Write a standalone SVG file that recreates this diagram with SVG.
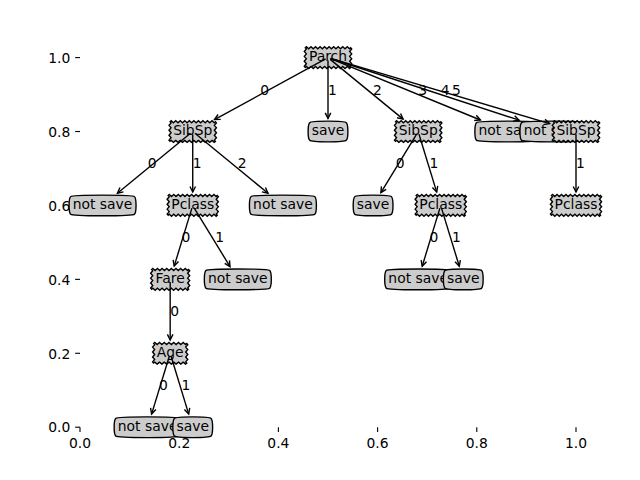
<svg xmlns="http://www.w3.org/2000/svg" width="640" height="480" viewBox="0 0 640 480">
<style>
.box{fill:#cccccc;stroke:#000;stroke-width:1.39;stroke-linejoin:miter}
.t{font-family:"DejaVu Sans","Liberation Sans",sans-serif;font-size:13.89px;fill:#000}
.c{text-anchor:middle}
.e{text-anchor:end}
.edge{fill:none;stroke:#000;stroke-width:1.39;marker-end:url(#ah)}
.tick{stroke:#000;stroke-width:1.11}
</style>
<defs>
<marker id="ah" markerUnits="userSpaceOnUse" markerWidth="20" markerHeight="20" viewBox="-10 -10 20 20" refX="0" refY="0" orient="auto" overflow="visible">
<path d="M-5.56,-2.78 L0,0 L-5.56,2.78" fill="none" stroke="#000" stroke-width="1.39" stroke-linejoin="miter"/>
</marker>
<path id="saw10" class="box" d="M-22.68,-9.85 l1.134,-1.04 1.134,1.04 1.134,1.04 1.134,-1.04 1.134,-1.04 1.134,1.04 1.134,1.04 1.134,-1.04 1.134,-1.04 1.134,1.04 1.134,1.04 1.134,-1.04 1.134,-1.04 1.134,1.04 1.134,1.04 1.134,-1.04 1.134,-1.04 1.134,1.04 1.134,1.04 1.134,-1.04 1.134,-1.04 1.134,1.04 1.134,1.04 1.134,-1.04 1.134,-1.04 1.134,1.04 1.134,1.04 1.134,-1.04 1.134,-1.04 1.134,1.04 1.134,1.04 1.134,-1.04 1.134,-1.04 1.134,1.04 1.134,1.04 1.134,-1.04 1.134,-1.04 1.134,1.04 1.134,1.04 1.134,-1.04 1.04,1.231 -1.04,1.231 -1.04,1.231 1.04,1.231 1.04,1.231 -1.04,1.231 -1.04,1.231 1.04,1.231 1.04,1.231 -1.04,1.231 -1.04,1.231 1.04,1.231 1.04,1.231 -1.04,1.231 -1.04,1.231 1.04,1.231 -1.134,1.04 -1.134,-1.04 -1.134,-1.04 -1.134,1.04 -1.134,1.04 -1.134,-1.04 -1.134,-1.04 -1.134,1.04 -1.134,1.04 -1.134,-1.04 -1.134,-1.04 -1.134,1.04 -1.134,1.04 -1.134,-1.04 -1.134,-1.04 -1.134,1.04 -1.134,1.04 -1.134,-1.04 -1.134,-1.04 -1.134,1.04 -1.134,1.04 -1.134,-1.04 -1.134,-1.04 -1.134,1.04 -1.134,1.04 -1.134,-1.04 -1.134,-1.04 -1.134,1.04 -1.134,1.04 -1.134,-1.04 -1.134,-1.04 -1.134,1.04 -1.134,1.04 -1.134,-1.04 -1.134,-1.04 -1.134,1.04 -1.134,1.04 -1.134,-1.04 -1.134,-1.04 -1.134,1.04 -1.04,-1.231 1.04,-1.231 1.04,-1.231 -1.04,-1.231 -1.04,-1.231 1.04,-1.231 1.04,-1.231 -1.04,-1.231 -1.04,-1.231 1.04,-1.231 1.04,-1.231 -1.04,-1.231 -1.04,-1.231 1.04,-1.231 1.04,-1.231 -1.04,-1.231 z"/>
<path id="saw11" class="box" d="M-24.55,-9.85 l1.116,-1.04 1.116,1.04 1.116,1.04 1.116,-1.04 1.116,-1.04 1.116,1.04 1.116,1.04 1.116,-1.04 1.116,-1.04 1.116,1.04 1.116,1.04 1.116,-1.04 1.116,-1.04 1.116,1.04 1.116,1.04 1.116,-1.04 1.116,-1.04 1.116,1.04 1.116,1.04 1.116,-1.04 1.116,-1.04 1.116,1.04 1.116,1.04 1.116,-1.04 1.116,-1.04 1.116,1.04 1.116,1.04 1.116,-1.04 1.116,-1.04 1.116,1.04 1.116,1.04 1.116,-1.04 1.116,-1.04 1.116,1.04 1.116,1.04 1.116,-1.04 1.116,-1.04 1.116,1.04 1.116,1.04 1.116,-1.04 1.116,-1.04 1.116,1.04 1.116,1.04 1.116,-1.04 1.04,1.231 -1.04,1.231 -1.04,1.231 1.04,1.231 1.04,1.231 -1.04,1.231 -1.04,1.231 1.04,1.231 1.04,1.231 -1.04,1.231 -1.04,1.231 1.04,1.231 1.04,1.231 -1.04,1.231 -1.04,1.231 1.04,1.231 -1.116,1.04 -1.116,-1.04 -1.116,-1.04 -1.116,1.04 -1.116,1.04 -1.116,-1.04 -1.116,-1.04 -1.116,1.04 -1.116,1.04 -1.116,-1.04 -1.116,-1.04 -1.116,1.04 -1.116,1.04 -1.116,-1.04 -1.116,-1.04 -1.116,1.04 -1.116,1.04 -1.116,-1.04 -1.116,-1.04 -1.116,1.04 -1.116,1.04 -1.116,-1.04 -1.116,-1.04 -1.116,1.04 -1.116,1.04 -1.116,-1.04 -1.116,-1.04 -1.116,1.04 -1.116,1.04 -1.116,-1.04 -1.116,-1.04 -1.116,1.04 -1.116,1.04 -1.116,-1.04 -1.116,-1.04 -1.116,1.04 -1.116,1.04 -1.116,-1.04 -1.116,-1.04 -1.116,1.04 -1.116,1.04 -1.116,-1.04 -1.116,-1.04 -1.116,1.04 -1.04,-1.231 1.04,-1.231 1.04,-1.231 -1.04,-1.231 -1.04,-1.231 1.04,-1.231 1.04,-1.231 -1.04,-1.231 -1.04,-1.231 1.04,-1.231 1.04,-1.231 -1.04,-1.231 -1.04,-1.231 1.04,-1.231 1.04,-1.231 -1.04,-1.231 z"/>
<path id="saw8" class="box" d="M-18.5,-9.85 l1.156,-1.04 1.156,1.04 1.156,1.04 1.156,-1.04 1.156,-1.04 1.156,1.04 1.156,1.04 1.156,-1.04 1.156,-1.04 1.156,1.04 1.156,1.04 1.156,-1.04 1.156,-1.04 1.156,1.04 1.156,1.04 1.156,-1.04 1.156,-1.04 1.156,1.04 1.156,1.04 1.156,-1.04 1.156,-1.04 1.156,1.04 1.156,1.04 1.156,-1.04 1.156,-1.04 1.156,1.04 1.156,1.04 1.156,-1.04 1.156,-1.04 1.156,1.04 1.156,1.04 1.156,-1.04 1.04,1.231 -1.04,1.231 -1.04,1.231 1.04,1.231 1.04,1.231 -1.04,1.231 -1.04,1.231 1.04,1.231 1.04,1.231 -1.04,1.231 -1.04,1.231 1.04,1.231 1.04,1.231 -1.04,1.231 -1.04,1.231 1.04,1.231 -1.156,1.04 -1.156,-1.04 -1.156,-1.04 -1.156,1.04 -1.156,1.04 -1.156,-1.04 -1.156,-1.04 -1.156,1.04 -1.156,1.04 -1.156,-1.04 -1.156,-1.04 -1.156,1.04 -1.156,1.04 -1.156,-1.04 -1.156,-1.04 -1.156,1.04 -1.156,1.04 -1.156,-1.04 -1.156,-1.04 -1.156,1.04 -1.156,1.04 -1.156,-1.04 -1.156,-1.04 -1.156,1.04 -1.156,1.04 -1.156,-1.04 -1.156,-1.04 -1.156,1.04 -1.156,1.04 -1.156,-1.04 -1.156,-1.04 -1.156,1.04 -1.04,-1.231 1.04,-1.231 1.04,-1.231 -1.04,-1.231 -1.04,-1.231 1.04,-1.231 1.04,-1.231 -1.04,-1.231 -1.04,-1.231 1.04,-1.231 1.04,-1.231 -1.04,-1.231 -1.04,-1.231 1.04,-1.231 1.04,-1.231 -1.04,-1.231 z"/>
<path id="saw7" class="box" d="M-16.56,-9.85 l1.183,-1.04 1.183,1.04 1.183,1.04 1.183,-1.04 1.183,-1.04 1.183,1.04 1.183,1.04 1.183,-1.04 1.183,-1.04 1.183,1.04 1.183,1.04 1.183,-1.04 1.183,-1.04 1.183,1.04 1.183,1.04 1.183,-1.04 1.183,-1.04 1.183,1.04 1.183,1.04 1.183,-1.04 1.183,-1.04 1.183,1.04 1.183,1.04 1.183,-1.04 1.183,-1.04 1.183,1.04 1.183,1.04 1.183,-1.04 1.04,1.231 -1.04,1.231 -1.04,1.231 1.04,1.231 1.04,1.231 -1.04,1.231 -1.04,1.231 1.04,1.231 1.04,1.231 -1.04,1.231 -1.04,1.231 1.04,1.231 1.04,1.231 -1.04,1.231 -1.04,1.231 1.04,1.231 -1.183,1.04 -1.183,-1.04 -1.183,-1.04 -1.183,1.04 -1.183,1.04 -1.183,-1.04 -1.183,-1.04 -1.183,1.04 -1.183,1.04 -1.183,-1.04 -1.183,-1.04 -1.183,1.04 -1.183,1.04 -1.183,-1.04 -1.183,-1.04 -1.183,1.04 -1.183,1.04 -1.183,-1.04 -1.183,-1.04 -1.183,1.04 -1.183,1.04 -1.183,-1.04 -1.183,-1.04 -1.183,1.04 -1.183,1.04 -1.183,-1.04 -1.183,-1.04 -1.183,1.04 -1.04,-1.231 1.04,-1.231 1.04,-1.231 -1.04,-1.231 -1.04,-1.231 1.04,-1.231 1.04,-1.231 -1.04,-1.231 -1.04,-1.231 1.04,-1.231 1.04,-1.231 -1.04,-1.231 -1.04,-1.231 1.04,-1.231 1.04,-1.231 -1.04,-1.231 z"/>
<path id="notsave" class="box" d="M-31.93,-8.81 C-29.85,-10.89 29.85,-10.89 31.93,-8.81 C34.01,-6.73 34.01,6.73 31.93,8.81 C29.85,10.89 -29.85,10.89 -31.93,8.81 C-34.01,6.73 -34.01,-6.73 -31.93,-8.81 Z"/>
<path id="save" class="box" d="M-18.33,-8.81 C-16.25,-10.89 16.25,-10.89 18.33,-8.81 C20.42,-6.73 20.42,6.73 18.33,8.81 C16.25,10.89 -16.25,10.89 -18.33,8.81 C-20.42,6.73 -20.42,-6.73 -18.33,-8.81 Z"/>
</defs>
<rect x="0" y="0" width="640" height="480" fill="#fff"/>
<g id="axes">
<g class="tick">
<line x1="75.14" y1="427.2" x2="80" y2="427.2"/>
<line x1="75.14" y1="353.28" x2="80" y2="353.28"/>
<line x1="75.14" y1="279.36" x2="80" y2="279.36"/>
<line x1="75.14" y1="205.44" x2="80" y2="205.44"/>
<line x1="75.14" y1="131.52" x2="80" y2="131.52"/>
<line x1="75.14" y1="57.6" x2="80" y2="57.6"/>
<line x1="80" y1="427.2" x2="80" y2="432.06"/>
<line x1="179.2" y1="427.2" x2="179.2" y2="432.06"/>
<line x1="278.4" y1="427.2" x2="278.4" y2="432.06"/>
<line x1="377.6" y1="427.2" x2="377.6" y2="432.06"/>
<line x1="476.8" y1="427.2" x2="476.8" y2="432.06"/>
<line x1="576" y1="427.2" x2="576" y2="432.06"/>
</g>
<g class="t e">
<text x="70.28" y="432.48">0.0</text>
<text x="70.28" y="358.56">0.2</text>
<text x="70.28" y="284.64">0.4</text>
<text x="70.28" y="210.72">0.6</text>
<text x="70.28" y="136.8">0.8</text>
<text x="70.28" y="62.88">1.0</text>
</g>
<g class="t c">
<text x="80" y="447.5">0.0</text>
<text x="179.2" y="447.5">0.2</text>
<text x="278.4" y="447.5">0.4</text>
<text x="377.6" y="447.5">0.6</text>
<text x="476.8" y="447.5">0.8</text>
<text x="576" y="447.5">1.0</text>
</g>
</g>
<g id="nodes">
<g id="n-parch"><use href="#saw10" x="328" y="57.6"/><text class="t c" x="328" y="61.44">Parch</text></g>
<g id="n-sibsp1"><use href="#saw10" x="192.73" y="131.52"/><text class="t c" x="192.73" y="135.36">SibSp</text></g>
<g id="n-leaf1"><use href="#notsave" x="102.55" y="205.44"/><text class="t c" x="102.55" y="209.28">not save</text></g>
<g id="n-pclass1"><use href="#saw11" x="192.73" y="205.44"/><text class="t c" x="192.73" y="209.28">Pclass</text></g>
<g id="n-fare"><use href="#saw8" x="170.18" y="279.36"/><text class="t c" x="170.18" y="283.2">Fare</text></g>
<g id="n-age"><use href="#saw7" x="170.18" y="353.28"/><text class="t c" x="170.18" y="357.12">Age</text></g>
<g id="n-leaf2"><use href="#notsave" x="147.64" y="427.2"/><text class="t c" x="147.64" y="431.04">not save</text></g>
<g id="n-leaf3"><use href="#save" x="192.73" y="427.2"/><text class="t c" x="192.73" y="431.04">save</text></g>
<g id="n-leaf4"><use href="#notsave" x="237.82" y="279.36"/><text class="t c" x="237.82" y="283.2">not save</text></g>
<g id="n-leaf5"><use href="#notsave" x="282.91" y="205.44"/><text class="t c" x="282.91" y="209.28">not save</text></g>
<g id="n-leaf6"><use href="#save" x="328" y="131.52"/><text class="t c" x="328" y="135.36">save</text></g>
<g id="n-sibsp2"><use href="#saw10" x="418.18" y="131.52"/><text class="t c" x="418.18" y="135.36">SibSp</text></g>
<g id="n-leaf7"><use href="#save" x="373.09" y="205.44"/><text class="t c" x="373.09" y="209.28">save</text></g>
<g id="n-pclass2"><use href="#saw11" x="440.73" y="205.44"/><text class="t c" x="440.73" y="209.28">Pclass</text></g>
<g id="n-leaf8"><use href="#notsave" x="418.18" y="279.36"/><text class="t c" x="418.18" y="283.2">not save</text></g>
<g id="n-leaf9"><use href="#save" x="463.27" y="279.36"/><text class="t c" x="463.27" y="283.2">save</text></g>
<g id="n-leaf10"><use href="#notsave" x="508.36" y="131.52"/><text class="t c" x="508.36" y="135.36">not save</text></g>
<g id="n-leaf11"><use href="#notsave" x="553.45" y="131.52"/><text class="t c" x="553.45" y="135.36">not save</text></g>
<g id="n-sibsp3"><use href="#saw10" x="576" y="131.52"/><text class="t c" x="576" y="135.36">SibSp</text></g>
<g id="n-pclass3"><use href="#saw11" x="576" y="205.44"/><text class="t c" x="576" y="209.28">Pclass</text></g>
</g>
<g id="connectors">
<path class="edge" d="M325.6,58.9 L214.5,119.6"/>
<path class="edge" d="M328,60.4 L328,118.4"/>
<path class="edge" d="M330.2,59.4 L403.1,119.1"/>
<path class="edge" d="M330.6,58.7 L480.4,120.0"/>
<path class="edge" d="M330.6,58.5 L519.1,120.2"/>
<path class="edge" d="M330.7,58.4 L549.6,123.6"/>
<path class="edge" d="M190.5,133.3 L117.4,193.2"/>
<path class="edge" d="M192.73,134.3 L192.73,192.06"/>
<path class="edge" d="M194.9,133.3 L268.0,193.2"/>
<path class="edge" d="M191.9,208.1 L174.2,266.1"/>
<path class="edge" d="M194.1,207.8 L230.0,266.6"/>
<path class="edge" d="M170.18,282.1 L170.18,339.9"/>
<path class="edge" d="M169.4,356.0 L151.6,414.1"/>
<path class="edge" d="M171.0,356.0 L188.7,414.1"/>
<path class="edge" d="M416.8,133.9 L380.9,192.6"/>
<path class="edge" d="M419.0,134.2 L436.7,192.1"/>
<path class="edge" d="M439.9,208.1 L422.2,266.3"/>
<path class="edge" d="M441.5,208.1 L459.3,266.3"/>
<path class="edge" d="M576,134.3 L576,192.06"/>
</g>
<g id="labels" class="t">
<text x="260.35" y="94.56">0</text>
<text x="328" y="94.56">1</text>
<text x="373.09" y="94.56">2</text>
<text x="418.18" y="94.56">3</text>
<text x="440.73" y="94.56">4</text>
<text x="452" y="94.56">5</text>
<text x="147.64" y="168.48">0</text>
<text x="192.73" y="168.48">1</text>
<text x="237.82" y="168.48">2</text>
<text x="181.45" y="242.4">0</text>
<text x="215.27" y="242.4">1</text>
<text x="170.18" y="316.32">0</text>
<text x="158.91" y="390.24">0</text>
<text x="181.45" y="390.24">1</text>
<text x="395.64" y="168.48">0</text>
<text x="429.45" y="168.48">1</text>
<text x="429.45" y="242.4">0</text>
<text x="452" y="242.4">1</text>
<text x="576" y="168.48">1</text>
</g>
</svg>
